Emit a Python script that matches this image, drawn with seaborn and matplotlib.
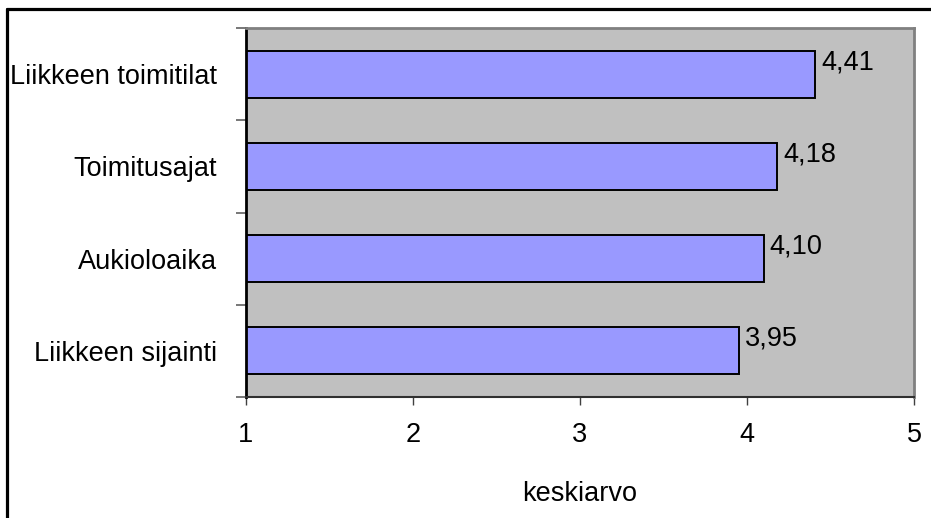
import matplotlib
matplotlib.use("Agg")
import matplotlib.pyplot as plt
import seaborn as sns
import pandas as pd
from matplotlib.lines import Line2D

categories = ["Liikkeen toimitilat", "Toimitusajat", "Aukioloaika", "Liikkeen sijainti"]
values = [4.41, 4.18, 4.10, 3.95]
value_labels = ["4,41", "4,18", "4,10", "3,95"]
xticks = [1, 2, 3, 4, 5]
xlabel = "keskiarvo"

sns.set_theme(style="white")
plt.rcParams["font.family"] = ["Liberation Sans", "DejaVu Sans"]
FS = 19.5

W, H = 931, 518
fig = plt.figure(figsize=(W / 100, H / 100), dpi=100)
fig.patch.set_facecolor("white")
ax = fig.add_axes([246 / W, (H - 397) / H, (914 - 246) / W, (397 - 28) / H])

df = pd.DataFrame({"cat": categories, "val": values})
sns.barplot(data=df, x="val", y="cat", orient="h", color="#9999FF",
            saturation=1, width=0.51, edgecolor="black", linewidth=1.4, ax=ax)
ax.set_facecolor("#C0C0C0")
ax.set_xlim(1, 5)
ax.set_ylim(len(categories) - 0.5, -0.5)

# x axis
ax.set_xticks(xticks)
ax.set_xticklabels([str(t) for t in xticks], fontsize=FS, color="black")
ax.tick_params(axis="x", direction="out", length=6, width=1, color="#404040", pad=12,
               bottom=True)
ax.set_xlabel(xlabel, fontsize=FS, color="black", labelpad=24)

# y axis: labels at category centres, ticks at boundaries
ax.set_yticks([i - 0.5 for i in range(len(categories) + 1)])
ax.set_yticklabels([""] * (len(categories) + 1))
ax.tick_params(axis="y", which="major", direction="out", length=7, width=1.2,
               color="#606060", left=True)
ax.set_yticks(range(len(categories)), minor=True)
ax.set_yticklabels(categories, minor=True, fontsize=FS, color="black")
ax.tick_params(axis="y", which="minor", length=0, pad=21)
ax.set_ylabel("")

for side in ["top", "right"]:
    ax.spines[side].set_color("#808080")
    ax.spines[side].set_linewidth(2)
ax.spines["left"].set_color("black")
ax.spines["left"].set_linewidth(2)
ax.spines["bottom"].set_color("#303030")
ax.spines["bottom"].set_linewidth(1.5)

for i, (v, lab) in enumerate(zip(values, value_labels)):
    ax.annotate(lab, xy=(v, i), xytext=(6, 12), textcoords="offset pixels",
                ha="left", va="center", fontsize=FS, color="black")

# outer frame (top and left only visible)
fig.add_artist(Line2D([6.5 / W, 1.0], [1 - 8.5 / H, 1 - 8.5 / H],
                      transform=fig.transFigure, color="black", linewidth=2.3))
fig.add_artist(Line2D([6.5 / W, 6.5 / W], [0, 1 - 8.5 / H],
                      transform=fig.transFigure, color="black", linewidth=2.3))

fig.savefig("out.png", dpi=100, facecolor="white")
